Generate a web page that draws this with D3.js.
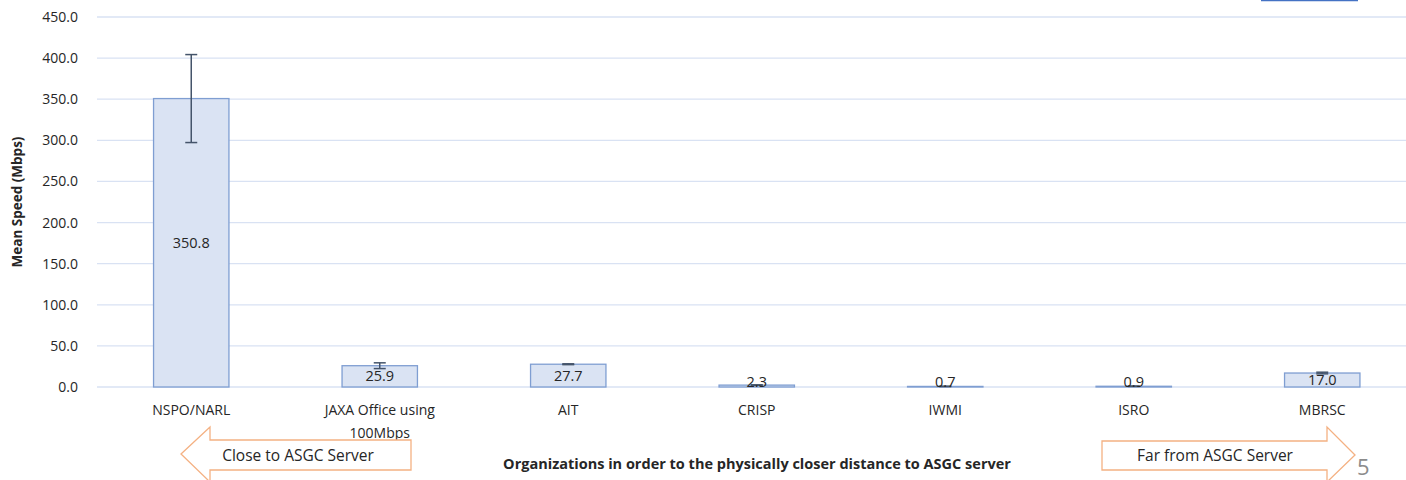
<html>
<head>
<meta charset="utf-8" />
<script src="https://cdn.jsdelivr.net/npm/d3@7"></script>
<style>
body { margin: 0; background: #fff; }
text { font-family: "Open Sans", "Noto Sans", sans-serif; fill: #262626; }
.grid line { stroke: #D9E2F3; stroke-width: 1.3px; }
.bar { fill: #DAE3F3; stroke: #7F9ED2; stroke-width: 1.3px; }
.err { stroke: #44546A; stroke-width: 1.5px; }
.arrow { fill: #fff; stroke: #F4B183; stroke-width: 1.3px; }
</style>
</head>
<body>
<svg id="chart" width="1406" height="480"></svg>
</body>
<script>

// data
var categories = ["NSPO/NARL", "JAXA Office using 100Mbps", "AIT", "CRISP", "IWMI", "ISRO", "MBRSC"];
var meanSpeed = [350.8, 25.9, 27.7, 2.3, 0.7, 0.9, 17.0];
var errSpeed = [53.5, 3.5, 0.5, 0.3, 0.2, 0.2, 1.0];
var yTicks = [0, 50, 100, 150, 200, 250, 300, 350, 400, 450];

var svg = d3.select("#chart");
var margin = {top: 17, left: 97, bottom: 93};
var height = 480 - margin.top - margin.bottom;
var width = 188.5 * categories.length;

var g = svg.append("g").attr("transform", "translate(" + margin.left + "," + margin.top + ")");

var x = d3.scaleBand()
    .domain(categories)
    .range([0, width])
    .paddingInner(0.6)
    .paddingOuter(0.3);

var y = d3.scaleLinear()
    .domain([0, 450])
    .range([height, 0]);

// gridlines
g.append("g")
    .attr("class", "grid")
    .selectAll("line")
    .data(yTicks)
    .enter().append("line")
    .attr("x1", 0)
    .attr("x2", width)
    .attr("y1", function(d) { return y(d); })
    .attr("y2", function(d) { return y(d); });

// y axis labels
var yAxis = g.append("g")
    .call(d3.axisLeft(y).tickValues(yTicks).tickFormat(d3.format(".1f")).tickSize(0).tickPadding(19));
yAxis.select(".domain").remove();
yAxis.selectAll("text").style("font-size", "14px").attr("fill", "#262626");

// bars
g.selectAll(".bar")
    .data(meanSpeed)
    .enter().append("rect")
    .attr("class", "bar")
    .attr("x", function(d, i) { return x(categories[i]); })
    .attr("y", function(d) { return y(d); })
    .attr("width", x.bandwidth())
    .attr("height", function(d) { return height - y(d); });

// error bars
var eb = g.selectAll(".errg")
    .data(meanSpeed)
    .enter().append("g")
    .attr("class", "errg")
    .attr("transform", function(d, i) { return "translate(" + (x(categories[i]) + x.bandwidth() / 2) + ",0)"; });
eb.append("line").attr("class", "err")
    .attr("y1", function(d, i) { return y(d + errSpeed[i]); })
    .attr("y2", function(d, i) { return y(d - errSpeed[i]); });
eb.append("line").attr("class", "err")
    .attr("x1", -6).attr("x2", 6)
    .attr("y1", function(d, i) { return y(d + errSpeed[i]); })
    .attr("y2", function(d, i) { return y(d + errSpeed[i]); });
eb.append("line").attr("class", "err")
    .attr("x1", -6).attr("x2", 6)
    .attr("y1", function(d, i) { return y(d - errSpeed[i]); })
    .attr("y2", function(d, i) { return y(d - errSpeed[i]); });

// value labels
g.selectAll(".val")
    .data(meanSpeed)
    .enter().append("text")
    .attr("class", "val")
    .attr("x", function(d, i) { return x(categories[i]) + x.bandwidth() / 2; })
    .attr("y", function(d) { return Math.min((y(d) + height) / 2, height - 5) + 5; })
    .attr("text-anchor", "middle")
    .style("font-size", "14.5px")
    .text(function(d) { return d.toFixed(1); });

// category labels (wrapped like the original)
var xAxis = g.append("g")
    .attr("transform", "translate(0," + height + ")");
categories.forEach(function(c) {
    var lines = c == "JAXA Office using 100Mbps" ? ["JAXA Office using", "100Mbps"] : [c];
    var t = xAxis.append("text")
        .attr("x", x(c) + x.bandwidth() / 2)
        .attr("y", 28)
        .attr("text-anchor", "middle")
        .style("font-size", "14px");
    lines.forEach(function(l, k) {
        t.append("tspan").attr("x", x(c) + x.bandwidth() / 2).attr("dy", k == 0 ? 0 : 23).text(l);
    });
});

// axis titles
svg.append("text")
    .attr("transform", "translate(22," + (margin.top + height / 2) + ") rotate(-90)")
    .attr("text-anchor", "middle")
    .style("font-size", "13.5px")
    .style("font-weight", "bold")
    .text("Mean Speed (Mbps)");

svg.append("text")
    .attr("x", 757)
    .attr("y", 469)
    .attr("text-anchor", "middle")
    .style("font-size", "14.5px")
    .style("font-weight", "bold")
    .text("Organizations in order to the physically closer distance to ASGC server");

// direction arrows
var leftArrow = [[181, 454], [210, 427], [210, 440], [411, 440], [411, 470], [210, 470], [210, 482]];
var rightArrow = [[1355, 455], [1327, 427], [1327, 441], [1102, 441], [1102, 470], [1327, 470], [1327, 482]];
svg.append("path").attr("class", "arrow").attr("d", d3.line()(leftArrow) + "Z");
svg.append("path").attr("class", "arrow").attr("d", d3.line()(rightArrow) + "Z");
svg.append("text").attr("x", 298).attr("y", 461).attr("text-anchor", "middle")
    .style("font-size", "15.5px").text("Close to ASGC Server");
svg.append("text").attr("x", 1215).attr("y", 461).attr("text-anchor", "middle")
    .style("font-size", "15.5px").text("Far from ASGC Server");

// slide number
svg.append("text").attr("x", 1357).attr("y", 475)
    .style("font-size", "22px").style("fill", "#8C8C8C").text("5");

// cropped box at the top right
svg.append("line").attr("x1", 1261).attr("x2", 1358).attr("y1", 0.5).attr("y2", 0.5)
    .attr("stroke", "#4472C4").attr("stroke-width", 1.5);

</script>
</html>
